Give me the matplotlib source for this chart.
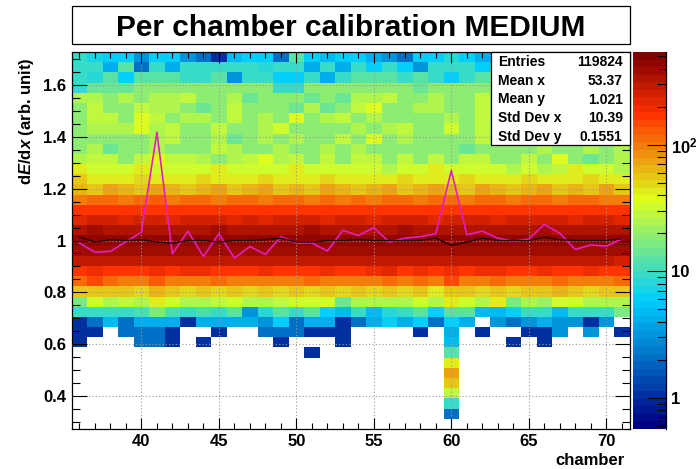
import numpy as np
import matplotlib
matplotlib.use("Agg")
import matplotlib.pyplot as plt
from matplotlib import ticker
from matplotlib.colors import LinearSegmentedColormap, ListedColormap, LogNorm
from matplotlib.patches import Rectangle

plt.rcParams['font.family'] = ['Liberation Sans', 'DejaVu Sans']
plt.rcParams['font.weight'] = 'bold'
plt.rcParams['mathtext.fontset'] = 'custom'
plt.rcParams['mathtext.rm'] = 'Liberation Sans:bold'
plt.rcParams['mathtext.it'] = 'Liberation Sans:bold:italic'
plt.rcParams['mathtext.bf'] = 'Liberation Sans:bold'

W, H = 699, 469

# --- data ---
chambers = np.arange(36, 72)
y_lo, y_hi, n_ybins = 0.272, 1.728, 37

# bin contents, one row per dE/dx bin (bottom row first), columns = chamber 36..71
counts_rows = [
    [0, 0, 0, 0, 0, 0, 0, 0, 0, 0, 0, 0, 0, 0, 0, 0, 0, 0, 0, 0, 0, 0, 0, 0, 0, 0, 0, 0, 0, 0, 0, 0, 0, 0, 0, 0],
    [0, 0, 0, 0, 0, 0, 0, 0, 0, 0, 0, 0, 0, 0, 0, 0, 0, 0, 0, 0, 0, 0, 0, 0, 2, 0, 0, 0, 0, 0, 0, 0, 0, 0, 0, 0],
    [0, 0, 0, 0, 0, 0, 0, 0, 0, 0, 0, 0, 0, 0, 0, 0, 0, 0, 0, 0, 0, 0, 0, 0, 9, 0, 0, 0, 0, 0, 0, 0, 0, 0, 0, 0],
    [0, 0, 0, 0, 0, 0, 0, 0, 0, 0, 0, 0, 0, 0, 0, 0, 0, 0, 0, 0, 0, 0, 0, 0, 28, 0, 0, 0, 0, 0, 0, 0, 0, 0, 0, 0],
    [0, 0, 0, 0, 0, 0, 0, 0, 0, 0, 0, 0, 0, 0, 0, 0, 0, 0, 0, 0, 0, 0, 0, 0, 55, 0, 0, 0, 0, 0, 0, 0, 0, 0, 0, 0],
    [0, 0, 0, 0, 0, 0, 0, 0, 0, 0, 0, 0, 0, 0, 0, 0, 0, 0, 0, 0, 0, 0, 0, 0, 70, 0, 0, 0, 0, 0, 0, 0, 0, 0, 0, 0],
    [0, 0, 0, 0, 0, 0, 0, 0, 0, 0, 0, 0, 0, 0, 0, 0, 0, 0, 0, 0, 0, 0, 0, 0, 42, 0, 0, 0, 0, 0, 0, 0, 0, 0, 0, 0],
    [0, 0, 0, 0, 0, 0, 0, 0, 0, 0, 0, 0, 0, 0, 0, 1, 0, 0, 0, 0, 0, 0, 0, 0, 12, 0, 0, 0, 0, 0, 0, 0, 0, 0, 0, 0],
    [1, 0, 0, 0, 2, 2, 1, 0, 1, 0, 0, 0, 0, 1, 0, 0, 0, 1, 0, 0, 0, 0, 0, 0, 5, 0, 0, 0, 1, 0, 1, 0, 0, 0, 0, 0],
    [1, 1, 0, 2, 2, 2, 1, 0, 0, 1, 0, 0, 2, 2, 2, 1, 1, 1, 0, 0, 0, 0, 1, 0, 4, 0, 1, 0, 0, 1, 1, 3, 0, 3, 0, 1],
    [1, 2, 5, 2, 4, 4, 4, 1, 4, 4, 4, 4, 3, 6, 2, 4, 4, 1, 2, 4, 6, 4, 6, 2, 6, 4, 0, 3, 2, 3, 4, 3, 3, 1, 3, 0],
    [9, 9, 9, 9, 11, 16, 11, 9, 11, 9, 13, 3, 8, 13, 9, 12, 6, 5, 9, 5, 8, 9, 12, 6, 12, 12, 5, 5, 6, 9, 9, 5, 9, 9, 9, 16],
    [16, 33, 25, 30, 25, 45, 33, 25, 25, 30, 33, 25, 25, 30, 33, 33, 33, 14, 25, 25, 25, 25, 33, 25, 45, 33, 25, 45, 16, 25, 22, 33, 33, 25, 25, 25],
    [55, 60, 55, 55, 50, 65, 55, 50, 55, 50, 55, 50, 55, 50, 55, 50, 55, 50, 55, 50, 55, 50, 55, 42, 60, 55, 50, 55, 50, 55, 55, 65, 55, 50, 55, 55],
    [110, 150, 105, 100, 100, 130, 100, 95, 100, 105, 100, 95, 100, 95, 100, 105, 100, 100, 95, 100, 110, 100, 105, 100, 140, 100, 95, 105, 100, 100, 95, 105, 100, 100, 95, 110],
    [170, 190, 180, 175, 180, 200, 175, 185, 190, 170, 180, 175, 185, 180, 175, 180, 190, 175, 170, 200, 215, 180, 195, 175, 190, 180, 200, 185, 180, 175, 190, 170, 180, 185, 175, 170],
    [280, 300, 290, 280, 300, 290, 310, 290, 280, 300, 290, 280, 300, 290, 300, 290, 280, 300, 290, 310, 300, 290, 300, 290, 310, 300, 280, 290, 300, 310, 290, 300, 290, 280, 300, 270],
    [380, 400, 390, 400, 380, 370, 400, 390, 380, 400, 410, 390, 400, 380, 390, 400, 390, 380, 400, 410, 390, 400, 380, 390, 370, 400, 390, 380, 400, 390, 380, 400, 410, 390, 400, 380],
    [440, 460, 450, 440, 450, 430, 460, 450, 470, 440, 460, 450, 440, 460, 450, 440, 460, 450, 440, 460, 450, 470, 450, 440, 420, 450, 460, 440, 450, 460, 440, 450, 460, 450, 440, 430],
    [330, 360, 340, 330, 350, 340, 320, 350, 340, 360, 330, 340, 350, 330, 340, 360, 330, 340, 350, 340, 330, 360, 340, 330, 350, 340, 330, 350, 340, 330, 360, 340, 330, 340, 350, 320],
    [230, 250, 240, 235, 250, 240, 230, 245, 240, 250, 235, 240, 230, 245, 240, 250, 235, 240, 245, 230, 240, 250, 240, 230, 245, 240, 250, 235, 240, 245, 250, 240, 230, 240, 245, 220],
    [165, 175, 170, 160, 175, 170, 165, 180, 170, 165, 175, 170, 160, 175, 170, 165, 175, 170, 165, 170, 180, 165, 170, 175, 165, 170, 175, 160, 170, 175, 165, 170, 175, 165, 170, 160],
    [100, 110, 105, 100, 110, 120, 100, 105, 110, 100, 105, 110, 100, 105, 110, 100, 105, 100, 110, 100, 105, 110, 100, 105, 115, 100, 110, 105, 100, 110, 105, 100, 105, 110, 100, 95],
    [65, 60, 70, 65, 60, 70, 65, 60, 65, 70, 60, 65, 70, 60, 65, 60, 70, 65, 60, 65, 70, 60, 65, 70, 65, 60, 70, 65, 60, 65, 70, 60, 65, 60, 70, 60],
    [55, 45, 42, 45, 50, 45, 42, 45, 50, 45, 42, 45, 50, 45, 42, 45, 50, 45, 45, 42, 45, 50, 45, 42, 45, 50, 45, 42, 45, 50, 45, 42, 45, 50, 45, 42],
    [45, 33, 33, 33, 45, 33, 33, 33, 33, 45, 33, 33, 33, 33, 45, 33, 33, 33, 33, 33, 25, 33, 33, 45, 33, 33, 33, 33, 25, 33, 25, 30, 45, 33, 33, 25],
    [24, 28, 28, 19, 28, 36, 28, 28, 24, 19, 24, 28, 36, 24, 28, 19, 28, 19, 28, 28, 19, 28, 19, 28, 19, 28, 28, 19, 19, 28, 19, 36, 19, 15, 19, 24],
    [19, 24, 15, 19, 19, 24, 19, 19, 19, 28, 24, 19, 19, 24, 19, 19, 24, 19, 24, 19, 19, 19, 19, 19, 19, 15, 19, 19, 19, 19, 24, 19, 19, 24, 19, 24],
    [19, 19, 19, 19, 19, 24, 28, 19, 19, 24, 15, 19, 24, 19, 24, 19, 19, 28, 19, 36, 19, 24, 19, 19, 19, 19, 28, 19, 21, 19, 24, 19, 21, 19, 19, 21],
    [19, 24, 24, 24, 36, 24, 28, 19, 19, 28, 19, 19, 24, 33, 19, 19, 19, 19, 24, 19, 24, 28, 19, 19, 31, 19, 28, 24, 21, 24, 19, 24, 21, 19, 24, 21],
    [19, 28, 28, 19, 36, 28, 19, 24, 24, 19, 28, 19, 24, 19, 36, 19, 24, 28, 19, 24, 19, 19, 19, 19, 24, 19, 28, 19, 24, 19, 24, 19, 24, 19, 21, 24],
    [19, 28, 19, 19, 28, 24, 24, 19, 15, 19, 28, 19, 19, 19, 15, 24, 15, 19, 28, 36, 19, 19, 24, 24, 19, 19, 28, 19, 24, 21, 19, 24, 19, 21, 24, 19],
    [24, 24, 19, 24, 19, 24, 24, 28, 19, 19, 24, 15, 19, 19, 19, 15, 19, 15, 24, 24, 28, 19, 19, 24, 19, 19, 28, 19, 21, 19, 24, 19, 21, 19, 24, 19],
    [10, 14, 14, 14, 19, 19, 19, 19, 19, 19, 19, 19, 19, 10, 10, 19, 19, 19, 19, 19, 19, 19, 14, 19, 19, 19, 19, 19, 16, 19, 16, 19, 16, 19, 16, 19],
    [9, 8, 12, 6, 12, 12, 13, 9, 9, 12, 3, 9, 9, 6, 6, 9, 4, 9, 12, 13, 13, 9, 12, 9, 6, 9, 12, 16, 10, 12, 10, 9, 12, 10, 9, 12],
    [9, 9, 4, 12, 2, 9, 4, 9, 9, 9, 9, 9, 8, 9, 9, 4, 9, 4, 9, 6, 9, 6, 3, 9, 9, 9, 6, 9, 8, 9, 7, 9, 8, 9, 8, 9],
    [9, 7, 6, 6, 3, 6, 6, 3, 2, 1, 5, 6, 6, 2, 12, 6, 5, 6, 6, 4, 3, 2, 6, 6, 8, 6, 4, 5, 5, 6, 4, 6, 5, 6, 4, 6],
]

# per-chamber calibration (magenta) and mean (black) curves
calib_vals = [0.99, 0.955, 0.958, 0.995, 1.032, 1.418, 0.949, 1.036, 0.938, 1.026, 0.932, 0.977,
              0.946, 1.015, 0.99, 0.991, 0.959, 1.04, 1.019, 1.05, 0.994, 1.009, 1.015, 1.026,
              1.27, 1.022, 1.036, 1.009, 0.997, 1.006, 1.062, 1.028, 0.965, 0.983, 0.978, 1.006]
mean_vals = [1.013, 0.994, 1.003, 1.0, 1.003, 0.994, 0.99, 1.0, 1.0, 0.994, 1.0, 1.0,
             1.003, 1.009, 0.994, 0.994, 1.0, 1.0, 1.003, 1.0, 1.0, 1.0, 1.0, 1.009,
             0.981, 0.994, 1.009, 1.0, 1.0, 1.0, 1.013, 1.003, 1.0, 1.0, 1.0, 1.006]

x_ticks = [40, 45, 50, 55, 60, 65, 70]
y_ticks = [0.4, 0.6, 0.8, 1.0, 1.2, 1.4, 1.6]
y_tick_labels = ['0.4', '0.6', '0.8', '1', '1.2', '1.4', '1.6']
z_ticks = [1, 10, 100]
z_tick_labels = ['1', '10', r'$\mathbf{10^{2}}$']

stats_names = ['Entries', 'Mean x', 'Mean y', 'Std Dev x', 'Std Dev y']
stats_values = ['119824', '53.37', '1.021', '10.39', '0.1551']

title = 'Per chamber calibration MEDIUM'


def fx(px):
    return px / W


def fy(py):
    return 1 - py / H


# ROOT-like rainbow palette, 50 contours
stops = [0.00, 0.34, 0.61, 0.84, 1.00]
red = [0.00, 0.00, 0.87, 1.00, 0.51]
green = [0.00, 0.81, 1.00, 0.20, 0.00]
blue = [0.51, 1.00, 0.12, 0.00, 0.00]
grad = LinearSegmentedColormap.from_list(
    'rootpal', list(zip(stops, zip(red, green, blue))))
cmap = ListedColormap(grad(np.linspace(0, 1, 50)))
norm = LogNorm(vmin=0.567, vmax=542)

fig = plt.figure(figsize=(W / 100, H / 100), dpi=100)

ax_l, ax_r, ax_t, ax_b = 71.7, 629.5, 52, 429
ax = fig.add_axes([fx(ax_l), fy(ax_b), fx(ax_r) - fx(ax_l), fy(ax_t) - fy(ax_b)])

counts = np.ma.masked_equal(np.array(counts_rows, dtype=float), 0)
x_edges = np.append(chambers - 0.5, chambers[-1] + 0.5)
y_edges = np.linspace(y_lo, y_hi, n_ybins + 1)
mesh = ax.pcolormesh(x_edges, y_edges, counts, cmap=cmap, norm=norm, zorder=0)

ax.plot(chambers, calib_vals, color='#e21fc0', lw=1.2, zorder=3)
ax.plot(chambers, mean_vals, color='#1a0000', lw=0.9, zorder=3)

ax.set_xlim(x_edges[0], x_edges[-1])
ax.set_ylim(y_lo, y_hi)
ax.set_xticks(x_ticks)
ax.set_xticklabels([str(v) for v in x_ticks])
ax.set_yticks(y_ticks)
ax.set_yticklabels(y_tick_labels)
ax.xaxis.set_minor_locator(ticker.MultipleLocator(1))
ax.yaxis.set_minor_locator(ticker.MultipleLocator(0.05))
ax.tick_params(which='both', direction='in', top=True, right=True, width=0.8,
               labelsize=12, color='black')
ax.tick_params(axis='x', which='major', length=8, pad=3.5)
ax.tick_params(axis='x', which='minor', length=4)
ax.tick_params(axis='y', which='major', length=11, pad=4)
ax.tick_params(axis='y', which='minor', length=5.8)
ax.set_axisbelow(False)
ax.grid(True, which='major', linestyle=(0, (1, 2)), color='#9a9a9a', lw=0.8)
for s in ax.spines.values():
    s.set_linewidth(0.9)

# colour bar
cax = fig.add_axes([fx(633), fy(ax_b), fx(666) - fx(633), fy(ax_t) - fy(ax_b)])
cb = fig.colorbar(mesh, cax=cax)
cb.outline.set_visible(False)
cax.plot([1, 1], [0, 1], transform=cax.transAxes, color='black', lw=0.9, clip_on=False)
cax.yaxis.set_major_locator(ticker.FixedLocator(z_ticks))
cax.yaxis.set_major_formatter(ticker.FixedFormatter(z_tick_labels))
cax.yaxis.set_minor_locator(ticker.LogLocator(base=10, subs=np.arange(2, 10)))
cax.yaxis.set_minor_formatter(ticker.NullFormatter())
cax.tick_params(which='both', direction='in', right=True, left=False, width=0.8,
                labelsize=12, pad=3.5, color='black')
cax.tick_params(which='major', length=13.5)
cax.tick_params(which='minor', length=6.5)

# title box
fig.patches.append(Rectangle((fx(ax_l), fy(44.3)), fx(630) - fx(ax_l), fy(6) - fy(44.3),
                             transform=fig.transFigure, facecolor='white',
                             edgecolor='black', lw=0.9))
fig.text(fx(351), fy(36), title, ha='center', va='baseline', fontsize=21.5,
         fontweight='bold')

# stats box
fig.patches.append(Rectangle((fx(491), fy(145)), fx(ax_r) - fx(491), fy(ax_t) - fy(145),
                             transform=fig.transFigure, facecolor='white',
                             edgecolor='black', lw=0.9, zorder=5))
for i, (name, val) in enumerate(zip(stats_names, stats_values)):
    base = 66 + i * 18.75
    fig.text(fx(497.7), fy(base), name, ha='left', va='baseline', fontsize=10, zorder=6)
    fig.text(fx(622.7), fy(base), val, ha='right', va='baseline', fontsize=10, zorder=6)

# axis titles
fig.text(fx(27), fy(57), r'd$E$/d$x$ (arb. unit)', rotation=90, ha='center', va='top',
         fontsize=12)
fig.text(fx(625), fy(460), 'chamber', ha='right', va='center', fontsize=12)

fig.savefig('out.png', dpi=100)
